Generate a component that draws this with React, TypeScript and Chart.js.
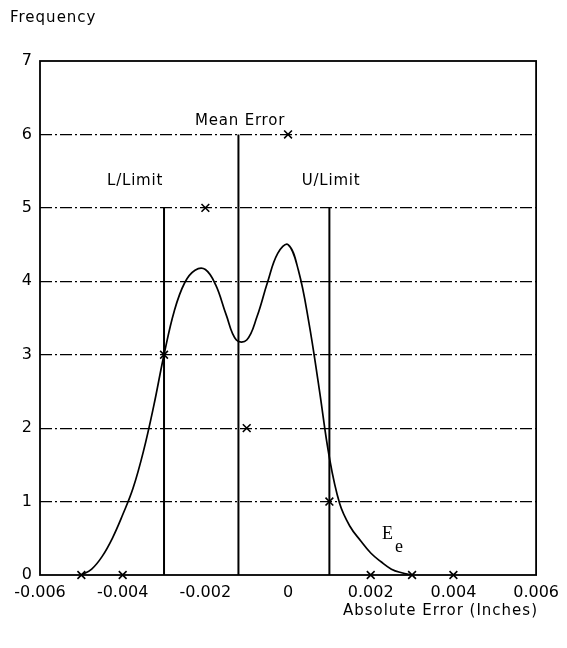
import React, { useEffect, useRef } from "react";
import { Chart, registerables } from "chart.js";

Chart.register(...registerables);

// Smooth distribution curve
const curveX = [-0.005, -0.00475, -0.0045, -0.00425, -0.004, -0.00375, -0.0035, -0.00325, -0.003, -0.00275, -0.0025, -0.00225, -0.002, -0.00175, -0.0015, -0.00125, -0.001, -0.00075, -0.0005, -0.00025, 0, 0.00025, 0.0005, 0.00075, 0.001, 0.00125, 0.0015, 0.00175, 0.002, 0.00225, 0.0025, 0.00275, 0.003];
const curveY = [0, 0.08, 0.25, 0.5, 0.82, 1.18, 1.68, 2.3, 3.0, 3.6, 3.98, 4.15, 4.16, 3.95, 3.55, 3.2, 3.2, 3.52, 3.98, 4.38, 4.5, 4.15, 3.45, 2.55, 1.6, 0.97, 0.66, 0.47, 0.3, 0.18, 0.08, 0.03, 0];

// Observed frequencies (× markers)
const sampleX = [-0.005, -0.004, -0.003, -0.002, -0.001, 0, 0.001, 0.002, 0.003, 0.004];
const sampleFreq = [0, 0, 3, 5, 2, 6, 1, 0, 0, 0];

// Limit lines
const limitNames = ["L/Limit", "Mean Error", "U/Limit"];
const limitX = [-0.003, -0.0012, 0.001];
const limitTop = [5, 6, 5];
const labelX = [-0.0037, -0.00116, 0.00104];
const labelY = [5.37, 6.18, 5.37];

// Ticks
const xTickLabels = ["-0.006", "-0.004", "-0.002", "0", "0.002", "0.004", "0.006"];
const yTickLabels = ["0", "1", "2", "3", "4", "5", "6", "7"];

const curveLabelX = 0.00227;
const curveLabelY = 0.49;

export default function App() {
  const ref = useRef<HTMLCanvasElement | null>(null);

  useEffect(() => {
    const canvas = ref.current;
    if (!canvas) return;

    const textPlugin = {
      id: "textPlugin",
      afterDraw(chart: any) {
        const { ctx, chartArea, scales } = chart;
        const xs = scales.x;
        const ys = scales.y;
        ctx.save();
        ctx.strokeStyle = "#000";
        ctx.lineWidth = 1.8;
        ctx.setLineDash([]);
        ctx.strokeRect(chartArea.left, chartArea.top, chartArea.right - chartArea.left, chartArea.bottom - chartArea.top);

        ctx.fillStyle = "#000";
        ctx.textBaseline = "middle";
        (ctx as any).letterSpacing = "1px";
        ctx.font = "15px 'DejaVu Sans'";
        ctx.textAlign = "left";
        ctx.fillText("Frequency", 10, 18);
        ctx.textAlign = "right";
        ctx.fillText("Absolute Error (Inches)", 538, 611);

        (ctx as any).letterSpacing = "0.8px";
        ctx.textAlign = "center";
        for (let i = 0; i < limitNames.length; i++) {
          ctx.fillText(limitNames[i], xs.getPixelForValue(labelX[i]), ys.getPixelForValue(labelY[i]));
        }
        (ctx as any).letterSpacing = "0px";
        const ex = xs.getPixelForValue(curveLabelX);
        const ey = ys.getPixelForValue(curveLabelY);
        ctx.textAlign = "left";
        ctx.textBaseline = "alphabetic";
        ctx.font = "18px 'Liberation Serif'";
        ctx.fillText("E", ex, ey);
        ctx.font = "18px 'Liberation Serif'";
        ctx.fillText("e", ex + 13, ey + 13);
        ctx.restore();
      },
    };

    const limitDatasets = limitX.map((lx, i) => ({
      label: limitNames[i],
      data: [
        { x: lx, y: 0 },
        { x: lx, y: limitTop[i] },
      ],
      showLine: true,
      borderColor: "#000",
      borderWidth: 2,
      pointRadius: 0,
      fill: false,
    }));

    const chart = new Chart(canvas, {
      type: "scatter",
      data: {
        datasets: [
          {
            label: "Curve",
            data: curveX.map((x, i) => ({ x, y: curveY[i] })),
            showLine: true,
            borderColor: "#000",
            borderWidth: 1.7,
            pointRadius: 0,
            tension: 0.4,
            fill: false,
          } as any,
          ...limitDatasets,
          {
            label: "Frequency",
            data: sampleX.map((x, i) => ({ x, y: sampleFreq[i] })),
            showLine: false,
            pointStyle: "crossRot",
            pointRadius: 5.5,
            borderColor: "#000",
            backgroundColor: "#000",
            pointBorderWidth: 1.6,
            clip: false,
          } as any,
        ],
      },
      options: {
        responsive: false,
        animation: false,
        devicePixelRatio: 1,
        layout: { padding: { top: 61, right: 29, left: 0, bottom: 0 } },
        plugins: {
          legend: { display: false },
          tooltip: { enabled: false },
          title: { display: false },
        },
        scales: {
          x: {
            type: "linear",
            min: -0.006,
            max: 0.006,
            afterFit: (s: any) => {
              s.height = 73;
            },
            ticks: {
              stepSize: 0.002,
              padding: 8,
              color: "#000",
              maxRotation: 0,
              autoSkip: false,
              font: { family: "'DejaVu Sans'", size: 16 },
              callback: (v: any) => xTickLabels[Math.round((Number(v) + 0.006) / 0.002)] ?? "",
            },
            grid: { display: false, drawTicks: false },
            border: { display: false },
          },
          y: {
            type: "linear",
            min: 0,
            max: 7,
            afterFit: (s: any) => {
              s.width = 40;
            },
            ticks: {
              stepSize: 1,
              padding: 8,
              color: "#000",
              font: { family: "'DejaVu Sans'", size: 16 },
              callback: (v: any) => yTickLabels[Math.round(Number(v))] ?? "",
            },
            grid: {
              display: true,
              color: (c: any) => (c.tick && (c.tick.value === 0 || c.tick.value === 7) ? "rgba(0,0,0,0)" : "#000"),
              lineWidth: 1.2,
              drawTicks: false,
            },
            border: { display: false, dash: [12, 3, 2, 3] },
          },
        },
      },
      plugins: [textPlugin],
    });

    return () => chart.destroy();
  }, []);

  return (
    <div style={{ position: "fixed", left: 0, top: 0, width: 567, height: 648, background: "#fff" }}>
      <canvas ref={ref} width={567} height={648} style={{ display: "block" }} />
    </div>
  );
}
